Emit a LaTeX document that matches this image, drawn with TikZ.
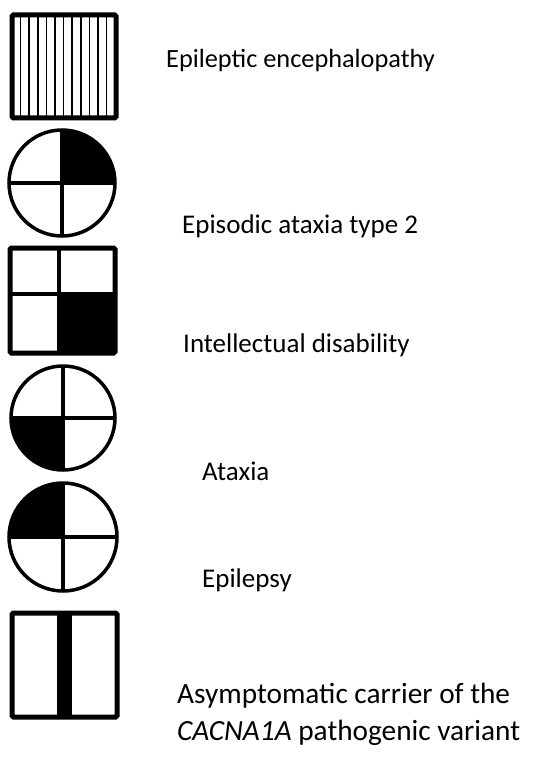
\documentclass[tikz,border=0pt]{standalone}
\usepackage{fontspec}
\setmainfont{Carlito}
\usepackage{tikz}

\begin{document}
\begin{tikzpicture}[
  x=1pt, y=1pt,
  symbox/.style={draw, line width=5pt, rounded corners=1.5pt},
  symcirc/.style={draw, line width=3.5pt},
  divider/.style={line width=3.5pt},
  legtext/.style={anchor=base west, inner sep=0pt, font=\fontsize{27}{37}\selectfont, align=left}
]
\useasboundingbox (0,0) rectangle (533,-765);

\foreach \i in {0,...,10}
  \draw[line width=1.6pt] ({20.5+8.6*\i},-15) -- ({20.5+8.6*\i},-118);
\draw[symbox] (12,-15) rectangle (116,-118);
\node[legtext, font=\fontsize{26.3}{32}\selectfont] (enc) at (166,-68) {Epileptic encephalopathy};

\coordinate (ea) at (62,-183);
\fill (ea) -- ++(53,0) arc[start angle=0, end angle=90, radius=53] -- cycle;
\draw[divider] (ea) ++(-53,0) -- ++(106,0);
\draw[divider] (ea) ++(0,-53) -- ++(0,106);
\draw[symcirc] (ea) circle[radius=53];
\node[legtext] (eat) at (182,-233) {Episodic ataxia type 2};

\fill (59,-294) rectangle (115,-353);
\draw[divider] (10,-294) -- (115,-294);
\draw[divider] (59,-248) -- (59,-353);
\draw[symbox] (10,-248) rectangle (115,-353);
\node[legtext] (id) at (183,-352) {Intellectual disability};

\coordinate (at) at (63,-418);
\fill (at) -- ++(-52,0) arc[start angle=180, end angle=270, radius=52] -- cycle;
\draw[divider] (at) ++(-52,0) -- ++(104,0);
\draw[divider] (at) ++(0,-52) -- ++(0,104);
\draw[symcirc] (at) circle[radius=52];
\node[legtext] (atx) at (202,-480) {Ataxia};

\coordinate (ep) at (63,-537);
\fill (ep) -- ++(-54,0) arc[start angle=180, end angle=90, radius=54] -- cycle;
\draw[divider] (ep) ++(-54,0) -- ++(108,0);
\draw[divider] (ep) ++(0,-54) -- ++(0,108);
\draw[symcirc] (ep) circle[radius=54];
\node[legtext] (epi) at (202,-587) {Epilepsy};

\fill (57,-613) rectangle (72,-717);
\draw[symbox] (12,-613) rectangle (117,-717);
\node[legtext, font=\fontsize{29.3}{37}\selectfont] (car) at (177,-740) {Asymptomatic carrier of the\\\textit{CACNA1A} pathogenic variant};
\end{tikzpicture}
\end{document}
